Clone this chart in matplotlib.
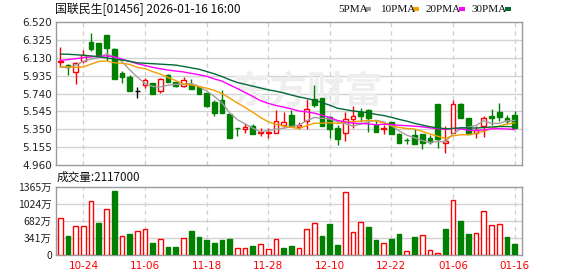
import numpy as np
import matplotlib
matplotlib.use("Agg")
import matplotlib.pyplot as plt
from matplotlib.patches import Rectangle

# ---------------- data ----------------
dates = ['10-21', '10-22', '10-23', '10-24', '10-27', '10-28', '10-30', '10-31',
         '11-03', '11-04', '11-05', '11-06', '11-07', '11-10', '11-11', '11-12',
         '11-13', '11-14', '11-17', '11-18', '11-19', '11-20', '11-21', '11-24',
         '11-25', '11-26', '11-27', '11-28',
         '12-01', '12-02', '12-03', '12-04', '12-05', '12-08', '12-09', '12-10',
         '12-11', '12-12', '12-15', '12-16', '12-17', '12-18', '12-19', '12-22',
         '12-23', '12-24', '12-29', '12-30', '12-31',
         '01-02', '01-05', '01-06', '01-07', '01-08', '01-09', '01-12', '01-13',
         '01-14', '01-15', '01-16']

opens = [6.08, 6.05, 5.97, 6.10, 6.30, 6.29, 6.38, 6.225, 5.965, 5.92,
         5.77, 5.83, 5.857, 5.762, 5.943, 5.868, 5.82, 5.835, 5.81, 5.74,
         5.65, 5.67, 5.515, 5.368, 5.35, 5.385, 5.31, 5.31, 5.313, 5.395,
         5.505, 5.372, 5.443, 5.678, 5.69, 5.485, 5.362, 5.307, 5.46, 5.535,
         5.562, 5.393, 5.358, 5.427, 5.298, 5.236, 5.288, 5.298, 5.255, 5.625,
         5.197, 5.307, 5.625, 5.472, 5.307, 5.387, 5.495, 5.538, 5.47, 5.505]
highs = [6.245, 6.06, 6.08, 6.21, 6.40, 6.29, 6.38, 6.24, 5.98, 5.945,
         5.815, 5.91, 5.857, 5.91, 5.95, 5.868, 5.92, 5.893, 5.81, 5.74,
         5.67, 5.78, 5.515, 5.368, 5.422, 5.407, 5.36, 5.36, 5.56, 5.54,
         5.56, 5.43, 5.682, 5.835, 5.69, 5.50, 5.40, 5.535, 5.608, 5.58,
         5.567, 5.45, 5.40, 5.427, 5.31, 5.25, 5.357, 5.298, 5.287, 5.625,
         5.383, 5.67, 5.64, 5.472, 5.383, 5.493, 5.57, 5.635, 5.51, 5.545]
lows = [6.03, 5.94, 5.84, 6.075, 6.205, 6.145, 6.10, 5.90, 5.855, 5.77,
        5.692, 5.805, 5.738, 5.748, 5.86, 5.81, 5.81, 5.79, 5.735, 5.59,
        5.49, 5.525, 5.252, 5.275, 5.307, 5.298, 5.28, 5.252, 5.313, 5.365,
        5.385, 5.35, 5.355, 5.59, 5.385, 5.256, 5.18, 5.225, 5.362, 5.43,
        5.325, 5.325, 5.30, 5.298, 5.203, 5.187, 5.19, 5.136, 5.19, 5.15,
        5.092, 5.307, 5.478, 5.30, 5.25, 5.262, 5.40, 5.443, 5.41, 5.367]
closes = [6.09, 6.025, 6.07, 6.165, 6.225, 6.165, 6.24, 5.90, 5.92, 5.77,
          5.77, 5.885, 5.738, 5.90, 5.86, 5.82, 5.885, 5.79, 5.735, 5.602,
          5.53, 5.525, 5.252, 5.36, 5.378, 5.298, 5.318, 5.325, 5.44, 5.43,
          5.385, 5.394, 5.57, 5.612, 5.385, 5.35, 5.24, 5.46, 5.49, 5.495,
          5.47, 5.325, 5.365, 5.298, 5.203, 5.232, 5.19, 5.204, 5.207, 5.248,
          5.22, 5.62, 5.478, 5.30, 5.343, 5.472, 5.473, 5.485, 5.435, 5.367]
# volume in 万 (10k shares)
volumes = [736, 381, 575, 575, 1084, 642, 923, 1285, 381, 422,
           475, 515, 241, 314, 161, 161, 335, 482, 361, 301,
           241, 294, 321, 141, 141, 181, 214, 114, 314, 141,
           181, 134, 515, 636, 381, 616, 201, 1258, 455, 656,
           562, 301, 234, 321, 422, 74, 361, 395, 94, 40,
           522, 1097, 682, 422, 435, 877, 596, 616, 361, 211.7]

ma5_head = [6.03, 6.02, 6.05, 6.09]
ma10_head = [6.035, 6.03, 6.025, 6.03, 6.06, 6.09, 6.095, 6.075, 6.07]
ma20_head = [6.10, 6.11, 6.12, 6.13, 6.14, 6.145, 6.15, 6.14, 6.115, 6.09,
             6.065, 6.045, 6.025, 6.01, 5.995, 5.985, 5.975, 5.96, 5.945]
ma30_head = [6.17, 6.168, 6.163, 6.157, 6.15, 6.14, 6.128, 6.116, 6.105, 6.092,
             6.075, 6.07, 6.065, 6.06, 6.055, 6.05, 6.035, 6.02, 6.005, 5.98,
             5.955, 5.925, 5.89, 5.86, 5.84, 5.82, 5.80, 5.78, 5.765]

tick_dates = ['10-24', '11-06', '11-18', '11-28', '12-10', '12-22', '01-06', '01-16']
price_ticks = [4.960, 5.155, 5.350, 5.545, 5.740, 5.935, 6.130, 6.325, 6.520]
vol_ticks = [0, 341.25, 682.5, 1023.75, 1365]
vol_tick_labels = ['0', '341万', '682万', '1024万', '1365万']
title = '国联民生[01456] 2026-01-16 16:00'
ma_names = ['5PMA', '10PMA', '20PMA', '30PMA']

# ---------------- helpers ----------------
W, H = 578, 276
RED = '#ff0000'
GREEN = '#008000'
MA_COLORS = ['#a0a0a0', '#f0a000', '#ff00ff', '#006b35']
CJK = ['Noto Sans CJK SC', 'DejaVu Sans']

c_arr = np.array(closes)


def moving_average(head, n):
    full = [c_arr[i - n + 1:i + 1].mean() for i in range(n - 1, len(c_arr))]
    return list(head) + full


mas = [moving_average(ma5_head, 5), moving_average(ma10_head, 10),
       moving_average(ma20_head, 20), moving_average(ma30_head, 30)]


def fig_rect(x0, y0, x1, y1):
    return [x0 / W, 1 - y1 / H, (x1 - x0) / W, (y1 - y0) / H]


fig = plt.figure(figsize=(W / 100, H / 100), dpi=100)
fig.patch.set_facecolor('white')

ax = fig.add_axes(fig_rect(56, 22, 522, 165))
axv = fig.add_axes(fig_rect(56, 187, 522, 255))

n = len(closes)
x = np.arange(n)
xl = (-0.56, 59.96)
tick_pos = [dates.index(d) for d in tick_dates]

for a in (ax, axv):
    a.set_xlim(*xl)
    for s in a.spines.values():
        s.set_color('#9a9a9a')
        s.set_linewidth(1.0)
    a.tick_params(length=0, labelsize=7.5, colors='#222222', pad=3)
    for p in tick_pos:
        a.axvline(p, color='#cfcfcf', lw=0.9, ls=(0, (3.5, 3)), zorder=0)

# price panel
ax.set_ylim(price_ticks[0], price_ticks[-1])
ax.set_yticks(price_ticks)
ax.set_yticklabels(['%.3f' % t for t in price_ticks])
for t in price_ticks[1:-1]:
    ax.axhline(t, color='#d2d2d2', lw=1.0, zorder=0)
ax.set_xticks([])

# watermark
ax.text(0.54, 0.51, '东方财富', transform=ax.transAxes, fontsize=27,
        family=CJK, color='#eeeeee', ha='center', va='center',
        fontweight='bold', zorder=0.5)

w = 0.62
for i in range(n):
    o, h, l, c = opens[i], highs[i], lows[i], closes[i]
    if c > o:
        col = RED
        ax.vlines(i, l, h, color=col, lw=1.0, zorder=2)
        ax.add_patch(Rectangle((i - w / 2, o), w, c - o, facecolor='white',
                               edgecolor=col, lw=1.0, zorder=3))
    elif c < o:
        col = GREEN
        ax.vlines(i, l, h, color=col, lw=1.0, zorder=2)
        ax.add_patch(Rectangle((i - w / 2, c), w, o - c, facecolor=col,
                               edgecolor=col, lw=1.0, zorder=3))
    else:
        col = 'black'
        ax.vlines(i, l, h, color=col, lw=1.0, zorder=2)
        ax.hlines(o, i - w / 2, i + w / 2, color=col, lw=1.0, zorder=3)

for m, col in zip(mas, MA_COLORS):
    ax.plot(x, m, color=col, lw=1.0, zorder=4)

# volume panel
axv.set_ylim(0, vol_ticks[-1])
axv.set_yticks(vol_ticks)
axv.set_yticklabels(vol_tick_labels, family=CJK)
for t in vol_ticks[1:-1]:
    axv.axhline(t, color='#d2d2d2', lw=1.0, zorder=0)
for i in range(n):
    prev = closes[i - 1] if i > 0 else opens[i]
    if closes[i] >= prev:
        axv.add_patch(Rectangle((i - w / 2, 0), w, volumes[i], facecolor='white',
                                edgecolor=RED, lw=1.0, zorder=3))
    else:
        axv.add_patch(Rectangle((i - w / 2, 0), w, volumes[i], facecolor=GREEN,
                                edgecolor=GREEN, lw=1.0, zorder=3))
axv.set_xticks(tick_pos)
axv.set_xticklabels(tick_dates, color=RED, fontsize=7.5)
axv.tick_params(axis='x', colors=RED, pad=4)

# texts
fig.text(55 / W, 1 - 9 / H, title, family=CJK, fontsize=8.6, color='#111111',
         ha='left', va='center')
fig.text(57 / W, 1 - 177 / H, '成交量:%d' % int(round(volumes[-1] * 10000)),
         family=CJK, fontsize=8.4, color='#111111', ha='left', va='center')

# legend
lx = [338, 381, 426, 472]
sq = [365, 413, 459, 505]
for name, col, tx, sx in zip(ma_names, MA_COLORS, lx, sq):
    fig.text(tx / W, 1 - 9 / H, name, fontsize=8, family='Liberation Serif',
             color='#111111', ha='left', va='center')
    fig.patches.append(Rectangle((sx / W, 1 - 11 / H), 6 / W, 4 / H,
                                 transform=fig.transFigure, facecolor=col,
                                 edgecolor='none'))

fig.savefig('out.png', dpi=100, facecolor='white')
